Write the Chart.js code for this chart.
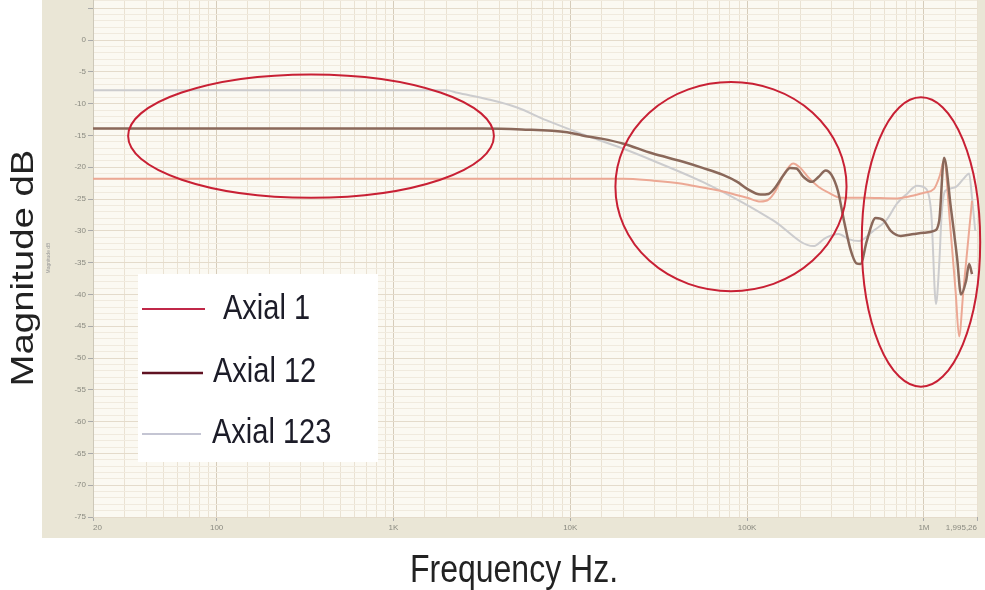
<!DOCTYPE html>
<html>
<head>
<meta charset="utf-8">
<script src="https://cdn.jsdelivr.net/npm/chart.js@4.4.1/dist/chart.umd.min.js"></script>
<style>
  html, body { margin: 0; padding: 0; background: #fff; }
  #wrap { width: 985px; height: 590px; }
</style>
</head>
<body>
<div id="wrap"><canvas id="chart" width="985" height="590"></canvas></div>
<script>
// Frequency response data (Hz / dB)

const seriesNames = ['Axial 1', 'Axial 12', 'Axial 123'];

const axial1Freq = [20, 1000, 20000, 29000, 43000, 56000, 73000, 100000, 119000, 132000,
    145000, 160000, 182000, 200000, 222000, 254000, 289000, 340000, 456000, 705000,
    822000, 1000000, 1140000, 1230000, 1300000, 1400000, 1510000, 1580000, 1670000, 1800000,
    1870000];
const axial1Db = [-21.8, -21.8, -21.8, -22.1, -22.6, -23.2, -23.8, -24.8, -25.4, -25.1,
    -23.7, -21.3, -19.4, -20.1, -21.6, -23.1, -24.0, -24.8, -24.8, -24.9,
    -24.6, -24.0, -23.4, -21.3, -18.9, -28.4, -39.5, -46.6, -39.5, -30.0,
    -25.3];

const axial12Freq = [20, 1000, 3200, 5300, 9600, 11700, 15000, 20000, 29000, 43000,
    56000, 73000, 88000, 100000, 119000, 132000, 145000, 160000, 175000, 190000,
    208000, 232000, 254000, 278000, 300000, 326000, 353000, 383000, 415000, 438000,
    475000, 533000, 593000, 649000, 740000, 877000, 1000000, 1140000, 1220000, 1300000,
    1420000, 1540000, 1620000, 1730000, 1800000, 1870000];
const axial12Db = [-13.9, -13.9, -13.9, -14.05, -14.5, -15.0, -15.5, -16.3, -17.8, -19.1,
    -20.1, -21.2, -22.3, -23.4, -24.3, -24.2, -23.1, -21.3, -20.1, -20.2,
    -21.5, -22.3, -21.5, -20.5, -21.2, -23.7, -28.4, -32.8, -35.1, -35.2,
    -31.6, -28.0, -28.4, -30.0, -30.8, -30.5, -30.3, -30.0, -28.4, -18.5,
    -26.4, -34.3, -40.0, -37.9, -35.2, -36.8];

const axial123Freq = [20, 2000, 2300, 3400, 5000, 7300, 11700, 20000, 29000, 56000,
    95000, 141000, 237000, 278000, 329000, 375000, 430000, 517000, 610000, 705000,
    800000, 913000, 1030000, 1100000, 1170000, 1220000, 1260000, 1320000, 1490000, 1700000,
    1800000, 1870000, 1950000];
const axial123Db = [-7.9, -7.9, -8.3, -9.3, -10.6, -12.6, -14.8, -17.1, -18.9, -22.3,
    -25.6, -28.4, -32.4, -31.1, -30.5, -31.3, -31.6, -30.0, -28.4, -25.7,
    -24.2, -22.9, -23.4, -27.3, -41.5, -35.2, -27.3, -23.7, -23.2, -21.6,
    -21.0, -24.8, -30.0];

// labelled x ticks
const xTickValues = [20, 100, 1000, 10000, 100000, 1000000, 1995262];
const xTickText = ['20', '100', '1K', '10K', '100K', '1M', '1,995,26'];

// red annotation ellipses, given by their extent in data units
const ellipseFreqMin = [31.6, 18000, 445000];
const ellipseFreqMax = [3700, 365000, 2080000];
const ellipseDbTop = [-5.4, -6.6, -9.0];
const ellipseDbBottom = [-24.8, -39.5, -54.5];

// colours
const lineColors = ['rgb(236,168,148)', 'rgb(138,104,90)', 'rgb(204,204,206)'];
const legendColors = ['rgb(192,40,72)', 'rgb(96,18,34)', 'rgb(176,178,196)'];

const FONT = '"Liberation Sans", Arial, sans-serif';

function toPoints(freq, db) {
    return freq.map((f, i) => ({ x: f, y: db[i] }));
}

function isLabelled(v) {
    return xTickValues.some(t => Math.abs(t - v) < 1e-6 * t);
}

function isDecade(v) {
    const l = Math.log10(v);
    return Math.abs(l - Math.round(l)) < 1e-9;
}

function isFiveDb(v) {
    return Number.isInteger(v) && v % 5 === 0;
}

// background panel, annotations, legend and big titles
const decorPlugin = {
    id: 'decor',
    beforeDraw(chart) {
        const ctx = chart.ctx;
        const a = chart.chartArea;
        ctx.save();
        ctx.fillStyle = '#ffffff';
        ctx.fillRect(0, 0, chart.width, chart.height);
        ctx.fillStyle = 'rgb(234,230,214)';
        ctx.fillRect(42, 0, chart.width - 42, 538);
        ctx.fillStyle = 'rgb(251,249,242)';
        ctx.fillRect(a.left, a.top, a.right - a.left, a.bottom - a.top);
        ctx.restore();
    },
    afterDraw(chart) {
        const ctx = chart.ctx;
        const xs = chart.scales.x;
        const ys = chart.scales.y;

        // ellipses
        ctx.save();
        ctx.strokeStyle = 'rgb(200,32,52)';
        ctx.lineWidth = 2;
        for (let i = 0; i < ellipseFreqMin.length; i++) {
            const x1 = xs.getPixelForValue(ellipseFreqMin[i]);
            const x2 = xs.getPixelForValue(ellipseFreqMax[i]);
            const y1 = ys.getPixelForValue(ellipseDbTop[i]);
            const y2 = ys.getPixelForValue(ellipseDbBottom[i]);
            ctx.beginPath();
            ctx.ellipse((x1 + x2) / 2, (y1 + y2) / 2, (x2 - x1) / 2, (y2 - y1) / 2, 0, 0, Math.PI * 2);
            ctx.stroke();
        }
        ctx.restore();

        // legend box
        ctx.save();
        ctx.fillStyle = '#ffffff';
        ctx.fillRect(138, 274, 240, 188);
        const rows = [
            { y: 309, x1: 142, x2: 205, tx: 223, ty: 319, w: 2 },
            { y: 373, x1: 142, x2: 203, tx: 213, ty: 382, w: 2.5 },
            { y: 434, x1: 142, x2: 201, tx: 212, ty: 443, w: 1.5 }
        ];
        rows.forEach((r, i) => {
            ctx.strokeStyle = legendColors[i];
            ctx.lineWidth = r.w;
            ctx.beginPath();
            ctx.moveTo(r.x1, r.y);
            ctx.lineTo(r.x2, r.y);
            ctx.stroke();
            ctx.save();
            ctx.translate(r.tx, r.ty);
            ctx.scale(1, 1.2);
            ctx.fillStyle = '#1c1c28';
            ctx.font = '29px ' + FONT;
            ctx.textAlign = 'left';
            ctx.textBaseline = 'alphabetic';
            ctx.fillText(seriesNames[i], 0, 0);
            ctx.restore();
        });
        ctx.restore();

        // axis titles
        ctx.save();
        ctx.fillStyle = '#222';
        ctx.font = '32px ' + FONT;
        ctx.textAlign = 'center';
        ctx.textBaseline = 'alphabetic';
        ctx.save();
        ctx.translate(514, 582);
        ctx.scale(1, 1.2);
        ctx.fillText('Frequency Hz.', 0, 0);
        ctx.restore();
        ctx.save();
        ctx.translate(33, 268);
        ctx.rotate(-Math.PI / 2);
        ctx.scale(1.2, 1);
        ctx.fillText('Magnitude dB', 0, 0);
        ctx.restore();
        // tiny inner axis title
        ctx.save();
        ctx.translate(50, 258);
        ctx.rotate(-Math.PI / 2);
        ctx.fillStyle = '#999';
        ctx.font = '5px ' + FONT;
        ctx.fillText('Magnitude dB', 0, 0);
        ctx.restore();
        ctx.restore();
    }
};

const chart = new Chart(document.getElementById('chart'), {
    type: 'line',
    data: {
        datasets: [
            {
                label: seriesNames[0],
                data: toPoints(axial1Freq, axial1Db),
                borderColor: lineColors[0],
                borderWidth: 2,
                order: 1
            },
            {
                label: seriesNames[1],
                data: toPoints(axial12Freq, axial12Db),
                borderColor: lineColors[1],
                borderWidth: 2.5,
                order: 0
            },
            {
                label: seriesNames[2],
                data: toPoints(axial123Freq, axial123Db),
                borderColor: lineColors[2],
                borderWidth: 2,
                order: 2
            }
        ]
    },
    options: {
        responsive: false,
        animation: false,
        devicePixelRatio: 1,
        layout: { padding: { top: 0, right: 8, left: 0, bottom: 0 } },
        elements: {
            point: { radius: 0 },
            line: { cubicInterpolationMode: 'monotone', fill: false }
        },
        plugins: {
            legend: { display: false },
            tooltip: { enabled: false }
        },
        scales: {
            x: {
                type: 'logarithmic',
                min: 20,
                max: 1995262,
                afterFit: s => {
                    s.height = 73;
                    s.paddingLeft = 0;
                    s.paddingRight = 0;
                },
                border: { display: false },
                grid: {
                    color: ctx => (ctx.tick && isDecade(ctx.tick.value)) ? 'rgb(214,204,186)' : 'rgb(234,226,211)',
                    tickLength: 4,
                    tickColor: ctx => (ctx.tick && isLabelled(ctx.tick.value)) ? '#aaa' : 'rgba(0,0,0,0)'
                },
                ticks: {
                    autoSkip: false,
                    maxRotation: 0,
                    minRotation: 0,
                    align: 'inner',
                    padding: 2,
                    color: '#8a8a80',
                    font: { size: 8, family: FONT },
                    callback: v => {
                        const i = xTickValues.findIndex(t => Math.abs(t - v) < 1e-6 * t);
                        return i >= 0 ? xTickText[i] : '';
                    }
                }
            },
            y: {
                min: -75,
                max: 6.3,
                afterFit: s => {
                    s.width = 93;
                    s.paddingTop = 0;
                    s.paddingBottom = 0;
                },
                border: { display: true, color: 'rgb(205,200,185)' },
                grid: {
                    color: ctx => (ctx.tick && isFiveDb(ctx.tick.value)) ? 'rgb(228,219,203)' : 'rgb(240,234,222)',
                    tickLength: 5,
                    tickColor: ctx => (ctx.tick && isFiveDb(ctx.tick.value)) ? '#aaa' : 'rgba(0,0,0,0)'
                },
                ticks: {
                    stepSize: 1,
                    autoSkip: false,
                    padding: 2,
                    color: '#8a8a80',
                    font: { size: 8, family: FONT },
                    callback: v => (isFiveDb(v) && v <= 0) ? String(v) : ''
                }
            }
        }
    },
    plugins: [decorPlugin]
});
</script>
</body>
</html>
